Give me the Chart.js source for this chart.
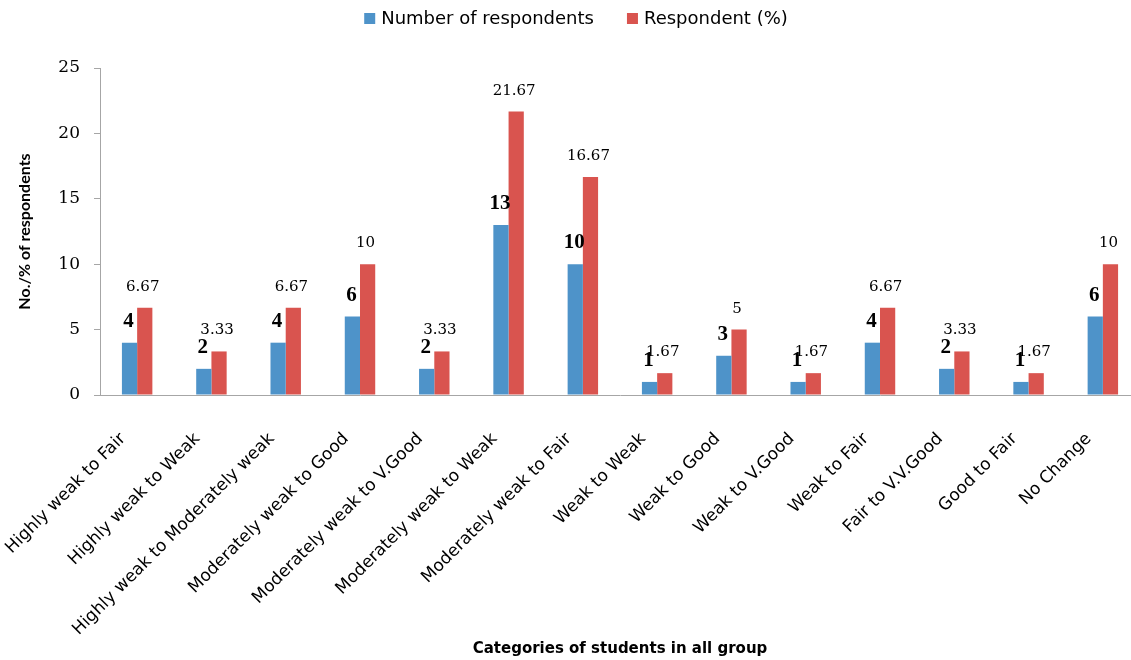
<!DOCTYPE html>
<html>
<head>
<meta charset="utf-8">
<script src="https://cdn.jsdelivr.net/npm/chart.js@4.4.1/dist/chart.umd.min.js"></script>
<style>
html,body{margin:0;padding:0;background:#fff;overflow:hidden;}
#wrap{width:1131px;height:660px;position:relative;overflow:hidden;}
</style>
</head>
<body>
<div id="wrap"><canvas id="c" width="1140" height="660"></canvas></div>
<script>
const categories = ["Highly weak to Fair","Highly weak to Weak","Highly weak to Moderately weak","Moderately weak to Good","Moderately weak to V.Good","Moderately weak to Weak","Moderately weak to Fair","Weak to Weak","Weak to Good","Weak to V.Good","Weak to Fair","Fair to V.V.Good","Good to Fair","No Change"];
const respondents = [4,2,4,6,2,13,10,1,3,1,4,2,1,6];
const respondentPct = [6.67,3.33,6.67,10,3.33,21.67,16.67,1.67,5,1.67,6.67,3.33,1.67,10];
const seriesNames = ["Number of respondents","Respondent (%)"];
const yTicks = [0,5,10,15,20,25];

const BLUE = '#4e93c9', RED = '#d9544f';

const labelPlugin = {
  id: 'valueLabels',
  afterDatasetsDraw(chart) {
    const ctx = chart.ctx;
    chart.data.datasets.forEach((ds, i) => {
      const meta = chart.getDatasetMeta(i);
      meta.data.forEach((bar, j) => {
        ctx.save();
        ctx.fillStyle = '#000';
        ctx.textAlign = 'center';
        ctx.textBaseline = 'alphabetic';
        if (i === 0) {
          ctx.font = 'bold 21px "Liberation Serif"';
          ctx.fillText(String(ds.data[j]), bar.x - 1, bar.y - 16);
        } else {
          ctx.font = '15px "DejaVu Serif"';
          ctx.fillText(String(ds.data[j]), bar.x - 2, bar.y - 17);
        }
        ctx.restore();
      });
    });
  }
};

const legendPlugin = {
  id: 'customLegend',
  afterDraw(chart) {
    const ctx = chart.ctx;
    ctx.save();
    ctx.font = '18px "DejaVu Sans"';
    ctx.textBaseline = 'middle';
    const colors = [BLUE, RED];
    const w0 = ctx.measureText(seriesNames[0]).width;
    const w1 = ctx.measureText(seriesNames[1]).width;
    const total = 11 + 6 + w0 + 33 + 11 + 6 + w1;
    let x = 576 - total / 2;
    const y = 19;
    [w0, w1].forEach((w, k) => {
      ctx.fillStyle = colors[k];
      ctx.fillRect(x, y - 6, 11, 11);
      ctx.fillStyle = '#000';
      ctx.fillText(seriesNames[k], x + 17, y);
      x += 17 + w + 33;
    });
    ctx.restore();
  }
};

new Chart(document.getElementById('c'), {
  type: 'bar',
  data: {
    labels: categories,
    datasets: [
      { label: seriesNames[0], data: respondents, backgroundColor: BLUE, categoryPercentage: 0.41, barPercentage: 1.0 },
      { label: seriesNames[1], data: respondentPct, backgroundColor: RED, categoryPercentage: 0.41, barPercentage: 1.0 }
    ]
  },
  options: {
    responsive: false,
    animation: false,
    layout: { padding: { top: 68, left: 15, right: 0, bottom: 0 } },
    plugins: { legend: { display: false }, tooltip: { enabled: false } },
    scales: {
      x: {
        afterFit(scale) { scale.height = 265; scale.paddingLeft = 0; scale.paddingRight = 0; },
        grid: { display: true, drawOnChartArea: false, drawTicks: false },
        border: { display: true, color: '#a6a6a6', width: 1 },
        ticks: { autoSkip: false, maxRotation: 45, minRotation: 45, color: '#000', font: { family: 'DejaVu Sans', size: 17 }, padding: 34, labelOffset: -14 },
        title: { display: true, text: 'Categories of students in all group', color: '#000', font: { family: 'DejaVu Sans', size: 15, weight: 'bold' }, padding: { top: 0, bottom: 2 } }
      },
      y: {
        min: 0, max: 25,
        afterFit(scale) { scale.width = 85; scale.paddingTop = 0; scale.paddingBottom = 0; },
        afterBuildTicks(scale) { scale.ticks = yTicks.map(v => ({ value: v })); },
        grid: { display: true, drawOnChartArea: false, drawTicks: true, tickLength: 6, color: '#a6a6a6' },
        border: { display: true, color: '#a6a6a6', width: 1 },
        ticks: { color: '#000', font: { family: 'DejaVu Serif', size: 17 }, padding: 14 },
        title: { display: true, text: 'No./% of respondents', color: '#000', font: { family: 'Lato', size: 16, weight: 'bold' }, padding: { top: 0, bottom: 10 } }
      }
    }
  },
  plugins: [labelPlugin, legendPlugin]
});
</script>
</body>
</html>
